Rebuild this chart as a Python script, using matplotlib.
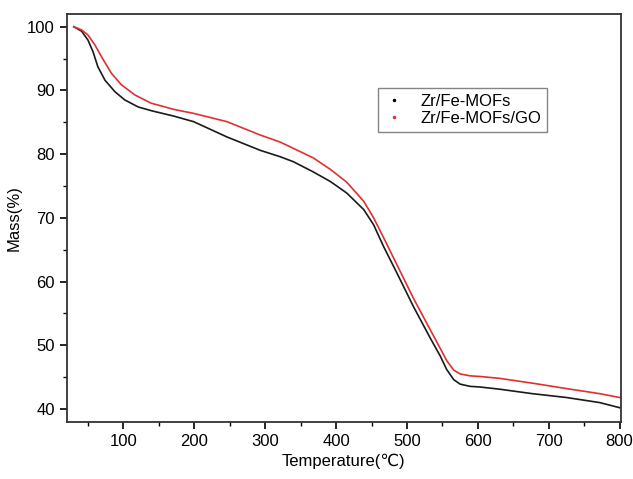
import matplotlib
matplotlib.use('Agg')
from matplotlib import pyplot as plt
from matplotlib.ticker import MultipleLocator

plt.rcParams['font.family'] = ['Liberation Sans', 'DejaVu Sans']

# Temperature (deg C) and mass (%)
temp_mof = [30, 41, 50, 57, 64, 74, 88, 102, 121, 140, 170, 199, 246, 293, 321, 340,
            368, 392, 415, 439, 453, 467, 486, 509, 533, 547, 556, 566, 575, 589,
            603, 631, 677, 725, 772, 800]
mass_mof = [100, 99.3, 97.9, 96.1, 93.7, 91.6, 89.8, 88.5, 87.4, 86.8, 86.0, 85.1,
            82.7, 80.6, 79.6, 78.8, 77.2, 75.7, 73.9, 71.3, 68.9, 65.5, 61.3, 56.1,
            51.1, 48.3, 46.2, 44.6, 43.9, 43.55, 43.45, 43.1, 42.4, 41.8, 41.0, 40.2]

temp_go = [30, 41, 50, 60, 69, 83, 97, 116, 139, 172, 199, 246, 293, 321, 340, 368,
           392, 415, 439, 453, 467, 486, 509, 533, 547, 556, 566, 575, 589, 603, 631,
           677, 725, 772, 800]
mass_go = [100, 99.5, 98.7, 97.1, 95.3, 92.7, 90.9, 89.3, 88.0, 87.0, 86.4, 85.1,
           83.0, 81.9, 80.9, 79.4, 77.6, 75.6, 72.6, 70.0, 66.9, 62.6, 57.4, 52.4,
           49.5, 47.6, 46.1, 45.5, 45.2, 45.1, 44.8, 44.05, 43.2, 42.4, 41.8]

fig = plt.figure(figsize=(6.33, 4.79), dpi=100)
ax = fig.add_axes([0.1054, 0.1196, 0.8757, 0.8512])

ax.plot(temp_mof, mass_mof, color='#1a1a1a', linewidth=1.2, label='Zr/Fe-MOFs')
ax.plot(temp_go, mass_go, color='#e03030', linewidth=1.2, label='Zr/Fe-MOFs/GO')

ax.set_xlim(20, 802)
ax.set_ylim(38, 102)
ax.xaxis.set_major_locator(MultipleLocator(100))
ax.xaxis.set_minor_locator(MultipleLocator(50))
ax.yaxis.set_major_locator(MultipleLocator(10))
ax.yaxis.set_minor_locator(MultipleLocator(5))
ax.tick_params(which='major', direction='out', length=5, width=1.2, labelsize=12,
               top=False, right=False)
ax.tick_params(which='minor', direction='out', length=3, width=1.0, top=False, right=False)
for s in ax.spines.values():
    s.set_linewidth(1.3)
    s.set_color('#333333')

ax.set_xlabel('Temperature(\u2103)', fontsize=12)
ax.set_ylabel('Mass(%)', fontsize=12)

handles = [plt.Line2D([], [], color='black', marker='.', markersize=3, linestyle='none'),
           plt.Line2D([], [], color='#e03030', marker='.', markersize=3, linestyle='none')]
ax.legend(handles, ['Zr/Fe-MOFs', 'Zr/Fe-MOFs/GO'], loc='upper left',
          bbox_to_anchor=(0.562, 0.8185), borderaxespad=0, fontsize=12, frameon=True,
          fancybox=False, edgecolor='#666666', handlelength=1.2, handletextpad=1.0,
          borderpad=0.35, labelspacing=0.15)

fig.savefig('out.png', dpi=100)
